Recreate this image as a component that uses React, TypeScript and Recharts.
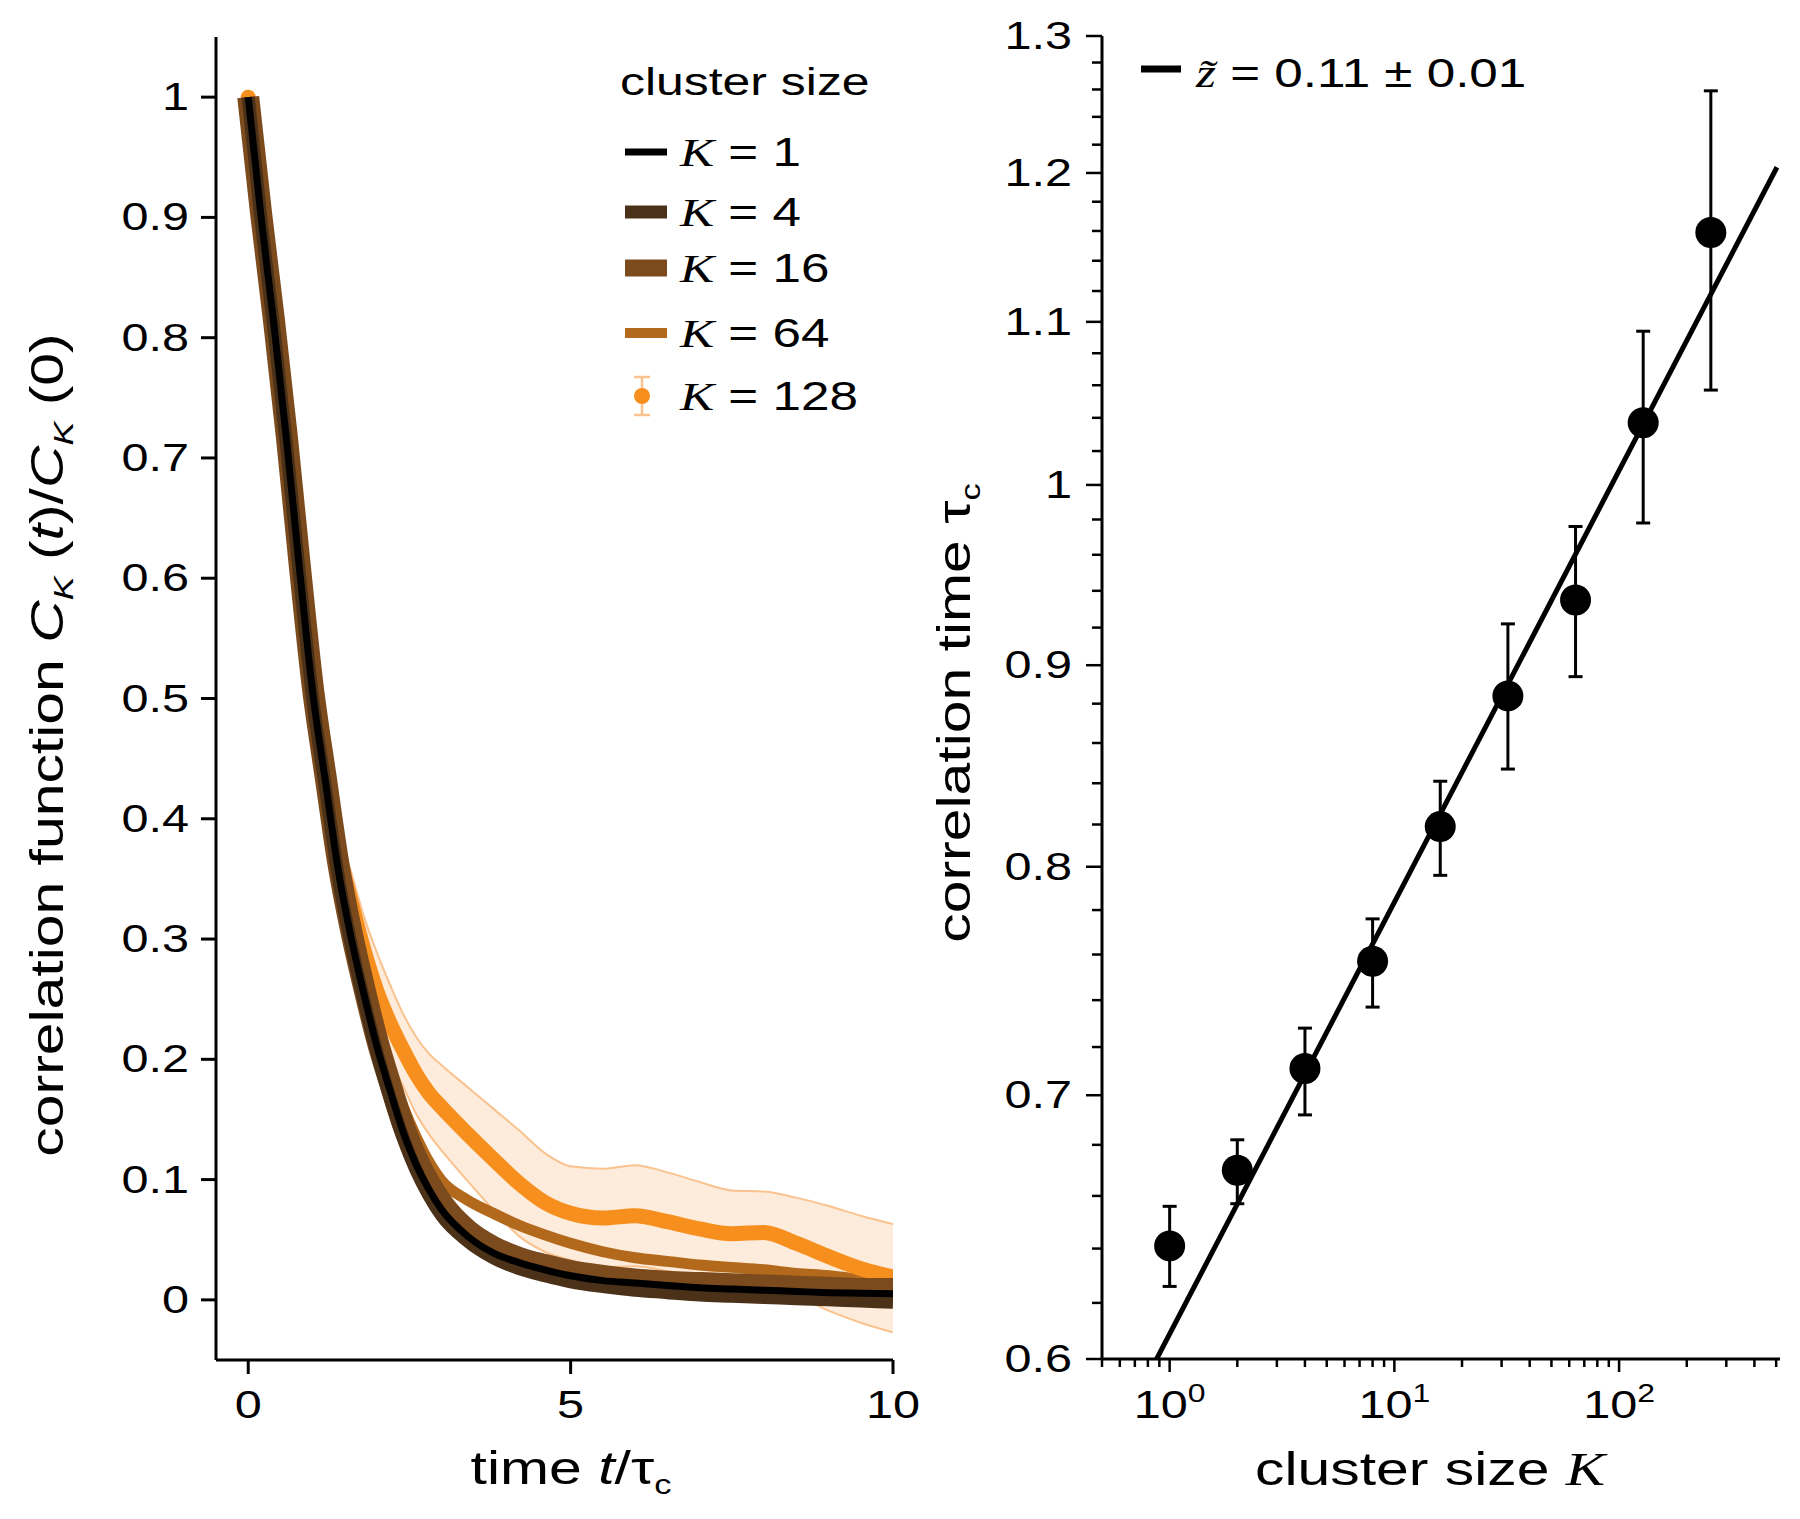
import React from 'react'
import {
  ComposedChart, Line, Area, Scatter, ErrorBar, XAxis, YAxis, Legend, Label
} from 'recharts'

const SANS = '"Liberation Sans", Arial, Helvetica, sans-serif'
const SERIF = '"Liberation Serif", "Times New Roman", serif'
const STRETCH = 1.28

// left panel: normalised correlation function vs t / tau_c
const tGrid = [0, 0.2, 0.4, 0.6, 0.8, 1.0, 1.2, 1.4, 1.6, 1.8, 2.0, 2.2, 2.4, 2.6, 2.8, 3.0, 3.4, 3.8, 4.2, 4.6, 5.0, 5.5, 6.0, 6.5, 7.0, 7.5, 8.0, 8.5, 9.0, 9.5, 10]
const cK1 = [1.0, 0.9, 0.81, 0.712, 0.605, 0.505, 0.43, 0.356, 0.3, 0.253, 0.21, 0.174, 0.14, 0.113, 0.092, 0.075, 0.053, 0.039, 0.031, 0.025, 0.02, 0.016, 0.014, 0.012, 0.01, 0.009, 0.008, 0.007, 0.006, 0.0055, 0.005]
const cK4 = [1.0, 0.897, 0.806, 0.707, 0.6, 0.5, 0.425, 0.351, 0.295, 0.248, 0.205, 0.168, 0.135, 0.108, 0.087, 0.07, 0.049, 0.035, 0.026, 0.02, 0.015, 0.011, 0.008, 0.006, 0.004, 0.003, 0.002, 0.001, 0.0, -0.001, -0.002]
const cK16 = [1.0, 0.903, 0.814, 0.717, 0.61, 0.51, 0.435, 0.362, 0.306, 0.259, 0.216, 0.18, 0.146, 0.119, 0.098, 0.081, 0.058, 0.044, 0.035, 0.029, 0.024, 0.02, 0.017, 0.015, 0.014, 0.013, 0.012, 0.011, 0.01, 0.009, 0.009]
const cK64 = [1.0, 0.902, 0.812, 0.715, 0.61, 0.51, 0.437, 0.365, 0.31, 0.264, 0.224, 0.19, 0.161, 0.136, 0.115, 0.099, 0.083, 0.072, 0.062, 0.054, 0.047, 0.04, 0.035, 0.032, 0.029, 0.027, 0.025, 0.022, 0.02, 0.017, 0.014]
const cK128 = [1.0, 0.902, 0.812, 0.716, 0.612, 0.513, 0.437, 0.373, 0.33, 0.29, 0.256, 0.23, 0.208, 0.188, 0.172, 0.16, 0.138, 0.117, 0.097, 0.081, 0.072, 0.068, 0.07, 0.065, 0.059, 0.055, 0.056, 0.047, 0.036, 0.026, 0.019]
const cK128Hi = [1.0, 0.905, 0.817, 0.722, 0.62, 0.525, 0.452, 0.392, 0.355, 0.318, 0.288, 0.262, 0.238, 0.219, 0.205, 0.195, 0.177, 0.159, 0.141, 0.122, 0.111, 0.109, 0.112, 0.106, 0.098, 0.091, 0.09, 0.085, 0.078, 0.07, 0.063]
const cK128Lo = [1.0, 0.899, 0.807, 0.71, 0.604, 0.501, 0.422, 0.354, 0.305, 0.262, 0.224, 0.2, 0.178, 0.155, 0.138, 0.124, 0.099, 0.075, 0.053, 0.04, 0.033, 0.027, 0.028, 0.024, 0.02, 0.019, 0.014, 0.004, -0.009, -0.019, -0.027]
const leftXTicks = [0, 5, 10]
const leftYTicks = [0, 0.1, 0.2, 0.3, 0.4, 0.5, 0.6, 0.7, 0.8, 0.9, 1]

// right panel: correlation time vs cluster size
const clusterK = [1, 2, 4, 8, 16, 32, 64, 128, 256]
const tauC = [0.641, 0.67, 0.711, 0.757, 0.819, 0.884, 0.935, 1.037, 1.159]
const tauLow = [0.626, 0.657, 0.692, 0.737, 0.796, 0.847, 0.894, 0.978, 1.057]
const tauHigh = [0.656, 0.682, 0.728, 0.776, 0.841, 0.922, 0.976, 1.094, 1.259]
const fitK = [0.875, 504]
const fitTau = [0.6, 1.204]
const rightYTicks = [0.6, 0.62, 0.64, 0.66, 0.68, 0.7, 0.72, 0.74, 0.76, 0.78, 0.8, 0.82, 0.84, 0.86, 0.88, 0.9, 0.92, 0.94, 0.96, 0.98, 1, 1.02, 1.04, 1.06, 1.08, 1.1, 1.12, 1.14, 1.16, 1.18, 1.2, 1.22, 1.24, 1.26, 1.28, 1.3]
const rightXTicks = [0.5, 0.6, 0.7, 0.8, 0.9, 1, 2, 3, 4, 5, 6, 7, 8, 9, 10, 20, 30, 40, 50, 60, 70, 80, 90, 100, 200, 300, 400, 500]

const legendLabels = ['1', '4', '16', '64', '128']

const leftRows = tGrid.map((t, i) => ({
  t,
  k1: cK1[i],
  k4: cK4[i],
  k16: cK16[i],
  k64: cK64[i],
  k128: cK128[i],
  band: [cK128Lo[i], cK128Hi[i]],
}))

const pointRows = clusterK.map((k, i) => ({
  k,
  tau: tauC[i],
  err: [tauC[i] - tauLow[i], tauHigh[i] - tauC[i]],
}))

const fitRows = fitK.map((k, i) => ({ k, tau: fitTau[i] }))

const C1 = '#000000'
const C4 = '#4a3118'
const C16 = '#7b4a1d'
const C64 = '#b3691b'
const C128 = '#f78f1e'
const BAND_FILL = '#fdecdb'
const BAND_EDGE = '#f9c28e'

function Txt({ x, y, size, anchor = 'start', rotate = 0, children }: any) {
  const tr = `translate(${x},${y})` + (rotate ? ` rotate(${rotate})` : '') + ` scale(${STRETCH},1)`
  return (
    <text transform={tr} fontSize={size} fontFamily={SANS} textAnchor={anchor} fill="#000">
      {children}
    </text>
  )
}

const LeftYTick = (props: any) => {
  const { x, y, payload } = props
  const v = payload.value
  const label = v === 0 || v === 1 ? String(v) : v.toFixed(1)
  return (
    <g>
      <line x1={x - 15} x2={x} y1={y} y2={y} stroke="#000" strokeWidth={3} />
      <Txt x={x - 27} y={y + 13} size={38} anchor="end">{label}</Txt>
    </g>
  )
}

const LeftXTick = (props: any) => {
  const { x, y, payload } = props
  return (
    <g>
      <line x1={x} x2={x} y1={y} y2={y + 14} stroke="#000" strokeWidth={3} />
      <Txt x={x} y={y + 58} size={38} anchor="middle">{String(payload.value)}</Txt>
    </g>
  )
}

const RightYTick = (props: any) => {
  const { x, y, payload } = props
  const v = payload.value
  const major = Math.abs(Math.round(v * 10) - v * 10) < 1e-6
  const label = v === 1 ? '1' : v.toFixed(1)
  return (
    <g>
      <line x1={x - (major ? 16 : 10)} x2={x} y1={y} y2={y} stroke="#000" strokeWidth={2.5} />
      {major && <Txt x={x - 30} y={y + 13} size={38} anchor="end">{label}</Txt>}
    </g>
  )
}

const RightXTick = (props: any) => {
  const { x, y, payload } = props
  const e = Math.log10(payload.value)
  const major = Math.abs(e - Math.round(e)) < 1e-9
  return (
    <g>
      <line x1={x} x2={x} y1={y} y2={y + (major ? 13 : 8)} stroke="#000" strokeWidth={2.5} />
      {major && (
        <Txt x={x} y={y + 59} size={38} anchor="middle">
          <tspan>10</tspan>
          <tspan fontSize={25} dy={-16}>{Math.round(e)}</tspan>
        </Txt>
      )}
    </g>
  )
}

const legendRowY = [152, 212, 268, 333, 396]
const legendSwatch = [
  { color: C1, h: 7 },
  { color: C4, h: 13 },
  { color: C16, h: 17 },
  { color: C64, h: 10 },
]

const LeftKey = () => (
  <svg width={900} height={460} style={{ overflow: 'visible', display: 'block' }}>
    <Txt x={620} y={95} size={39}>cluster size</Txt>
    {legendLabels.map((lab, i) => {
      const cy = legendRowY[i]
      return (
        <g key={lab}>
          {i < 4 ? (
            <line x1={625} x2={667} y1={cy} y2={cy} stroke={legendSwatch[i].color} strokeWidth={legendSwatch[i].h} />
          ) : (
            <g>
              <line x1={642} x2={642} y1={cy - 19} y2={cy + 19} stroke={BAND_EDGE} strokeWidth={2.5} />
              <line x1={634} x2={650} y1={cy - 19} y2={cy - 19} stroke={BAND_EDGE} strokeWidth={2.5} />
              <line x1={634} x2={650} y1={cy + 19} y2={cy + 19} stroke={BAND_EDGE} strokeWidth={2.5} />
              <circle cx={642} cy={cy} r={8} fill={C128} />
            </g>
          )}
          <Txt x={680} y={cy + 14} size={40}>
            <tspan fontFamily={SERIF} fontStyle="italic">K</tspan>
            <tspan> = {lab}</tspan>
          </Txt>
        </g>
      )
    })}
  </svg>
)

const RightKey = () => (
  <svg width={900} height={140} style={{ overflow: 'visible', display: 'block' }}>
    <line x1={241} x2={281} y1={69} y2={69} stroke="#000" strokeWidth={7} />
    <Txt x={296} y={87} size={40}>
      <tspan fontFamily={SERIF} fontStyle="italic">{'z\u0303'}</tspan>
      <tspan> = 0.11 ± 0.01</tspan>
    </Txt>
  </svg>
)

const LeftXTitle = () => (
  <Txt x={571} y={1484} size={46} anchor="middle">
    <tspan>time </tspan>
    <tspan fontStyle="italic">t</tspan>
    <tspan>/τ</tspan>
    <tspan fontSize={27} dy={10}>c</tspan>
  </Txt>
)

const LeftYTitle = () => (
  <Txt x={63} y={745} size={46} anchor="middle" rotate={-90}>
    <tspan>correlation function </tspan>
    <tspan fontStyle="italic">C</tspan>
    <tspan fontStyle="italic" fontSize={28} dy={10}>K</tspan>
    <tspan dy={-10}> (</tspan>
    <tspan fontStyle="italic">t</tspan>
    <tspan>)/</tspan>
    <tspan fontStyle="italic">C</tspan>
    <tspan fontStyle="italic" fontSize={28} dy={10}>K</tspan>
    <tspan dy={-10}> (0)</tspan>
  </Txt>
)

const RightXTitle = () => (
  <Txt x={530} y={1485} size={46} anchor="middle">
    <tspan>cluster size </tspan>
    <tspan fontFamily={SERIF} fontStyle="italic">K</tspan>
  </Txt>
)

const RightYTitle = () => (
  <Txt x={70} y={713} size={46} anchor="middle" rotate={-90}>
    <tspan>correlation time τ</tspan>
    <tspan fontSize={27} dy={10}>c</tspan>
  </Txt>
)

const axisStyle = { stroke: '#000', strokeWidth: 3 }

export default function App() {
  return (
    <div style={{ position: 'absolute', left: 0, top: 0, width: 1800, height: 1519, background: '#fff' }}>
      <div style={{ position: 'absolute', left: 0, top: 0 }}>
        <ComposedChart width={940} height={1519} data={leftRows} margin={{ top: 37, right: 47, bottom: 79, left: 96 }}>
          <XAxis
            dataKey="t" type="number" domain={[-0.5, 10]} allowDataOverflow ticks={leftXTicks} interval={0}
            height={80} tickSize={0} tickMargin={0} tickLine={false} axisLine={axisStyle} tick={LeftXTick}
          >
            <Label content={LeftXTitle} />
          </XAxis>
          <YAxis
            type="number" domain={[-0.05, 1.05]} allowDataOverflow ticks={leftYTicks} interval={0}
            width={120} tickSize={0} tickMargin={0} tickLine={false} axisLine={axisStyle} tick={LeftYTick}
          >
            <Label content={LeftYTitle} />
          </YAxis>
          <Area
            dataKey="band" type="monotone" fill={BAND_FILL} fillOpacity={1}
            stroke={BAND_EDGE} strokeWidth={2} dot={false} activeDot={false} isAnimationActive={false}
          />
          <Line dataKey="k64" type="monotone" stroke={C64} strokeWidth={11} dot={false} activeDot={false} isAnimationActive={false} />
          <Line dataKey="k128" type="monotone" stroke={C128} strokeWidth={15} strokeLinecap="round" dot={false} activeDot={false} isAnimationActive={false} />
          <Line dataKey="k16" type="monotone" stroke={C16} strokeWidth={22} dot={false} activeDot={false} isAnimationActive={false} />
          <Line dataKey="k4" type="monotone" stroke={C4} strokeWidth={13} dot={false} activeDot={false} isAnimationActive={false} />
          <Line dataKey="k1" type="monotone" stroke={C1} strokeWidth={7} dot={false} activeDot={false} isAnimationActive={false} />
          <Legend
            layout="vertical" align="center" verticalAlign="middle" content={LeftKey}
            wrapperStyle={{ left: 0, top: 0, width: 900, height: 460 }}
          />
        </ComposedChart>
      </div>
      <div style={{ position: 'absolute', left: 900, top: 0 }}>
        <ComposedChart width={900} height={1519} margin={{ top: 36, right: 20, bottom: 80, left: 82 }}>
          <XAxis
            dataKey="k" type="number" scale="log" domain={[0.5, 520]} allowDataOverflow ticks={rightXTicks} interval={0}
            height={80} tickSize={0} tickMargin={0} tickLine={false} axisLine={axisStyle} tick={RightXTick}
          >
            <Label content={RightXTitle} />
          </XAxis>
          <YAxis
            type="number" scale="log" domain={[0.6, 1.3]} allowDataOverflow ticks={rightYTicks} interval={0}
            width={120} tickSize={0} tickMargin={0} tickLine={false} axisLine={axisStyle} tick={RightYTick}
          >
            <Label content={RightYTitle} />
          </YAxis>
          <Line data={fitRows} dataKey="tau" type="linear" stroke="#000" strokeWidth={5} dot={false} activeDot={false} isAnimationActive={false} />
          <Scatter
            data={pointRows} dataKey="tau" isAnimationActive={false}
            shape={(p: any) => <circle cx={p.cx} cy={p.cy} r={15.5} fill="#000" />}
          >
            <ErrorBar dataKey="err" direction="y" width={7} stroke="#000" strokeWidth={3} />
          </Scatter>
          <Legend
            layout="vertical" align="center" verticalAlign="middle" content={RightKey}
            wrapperStyle={{ left: 0, top: 0, width: 900, height: 140 }}
          />
        </ComposedChart>
      </div>
    </div>
  )
}
